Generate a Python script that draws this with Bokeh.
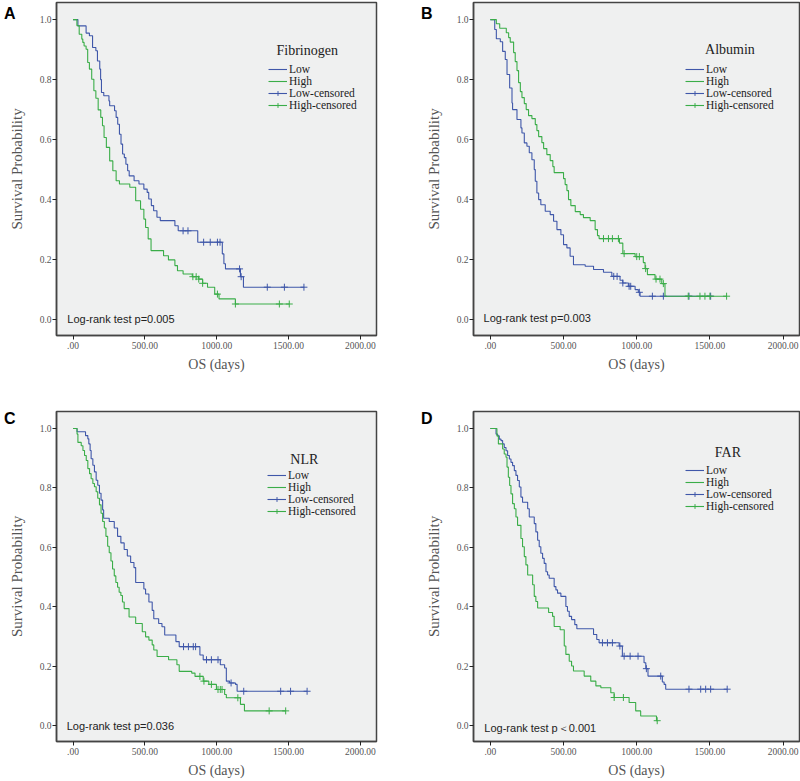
from bokeh.plotting import figure
from bokeh.models import Range1d, Label, Legend, LegendItem, FixedTicker, LinearAxis
from bokeh.layouts import gridplot
from bokeh.embed import file_html
from bokeh.resources import INLINE

# ---------------- axis ticks ----------------
X_TICKS = [0, 500, 1000, 1500, 2000]
X_TICK_LABELS = [".00", "500.00", "1000.00", "1500.00", "2000.00"]
Y_TICKS = [0.0, 0.2, 0.4, 0.6, 0.8, 1.0]
Y_TICK_LABELS = ["0.0", "0.2", "0.4", "0.6", "0.8", "1.0"]
GROUPS = ["Low", "High", "Low-censored", "High-censored"]

# ---------------- Panel A : Fibrinogen ----------------
A_low_t = [0, 34, 91, 114, 136, 159, 170, 186, 192, 198, 214, 250, 255, 289, 300, 311, 323, 334, 345, 357, 368, 380, 391, 425, 459, 493, 516, 527, 545, 561, 584, 607, 709, 732, 868, 1039, 1050, 1061, 1165, 1186, 1609]
A_low_s = [1.0, 0.979, 0.955, 0.946, 0.907, 0.896, 0.862, 0.835, 0.80, 0.757, 0.746, 0.729, 0.713, 0.696, 0.674, 0.651, 0.618, 0.585, 0.552, 0.540, 0.518, 0.496, 0.479, 0.463, 0.452, 0.435, 0.424, 0.402, 0.380, 0.363, 0.341, 0.330, 0.313, 0.296, 0.258, 0.219, 0.186, 0.169, 0.143, 0.108, 0.108]
A_low_ct = [766, 800, 909, 955, 1005, 1023, 1159, 1170, 1352, 1471, 1607]
A_low_cs = [0.296, 0.296, 0.258, 0.258, 0.258, 0.258, 0.169, 0.143, 0.108, 0.108, 0.108]
A_high_t = [0, 27, 43, 61, 68, 77, 91, 102, 114, 130, 145, 159, 175, 193, 205, 216, 232, 255, 277, 300, 323, 395, 436, 470, 493, 505, 523, 543, 630, 664, 709, 727, 766, 830, 875, 902, 936, 986, 1016, 1130, 1505]
A_high_s = [1.0, 0.98, 0.951, 0.935, 0.924, 0.912, 0.901, 0.857, 0.835, 0.801, 0.763, 0.738, 0.699, 0.674, 0.646, 0.607, 0.574, 0.529, 0.496, 0.463, 0.452, 0.441, 0.396, 0.368, 0.335, 0.307, 0.269, 0.230, 0.213, 0.199, 0.180, 0.163, 0.152, 0.143, 0.135, 0.121, 0.108, 0.085, 0.069, 0.052, 0.052]
A_high_ct = [834, 857, 875, 902, 1005, 1130, 1436, 1505]
A_high_cs = [0.143, 0.143, 0.135, 0.121, 0.085, 0.052, 0.052, 0.052]

# ---------------- Panel B : Albumin ----------------
B_low_t = [0, 30, 41, 68, 84, 102, 114, 132, 148, 152, 182, 209, 216, 232, 250, 266, 284, 300, 307, 318, 330, 345, 375, 409, 432, 455, 482, 500, 523, 545, 568, 648, 705, 773, 830, 886, 905, 943, 989, 1011, 1023, 1511]
B_low_s = [1.0, 0.967, 0.936, 0.926, 0.894, 0.867, 0.817, 0.772, 0.722, 0.70, 0.667, 0.639, 0.622, 0.589, 0.578, 0.556, 0.533, 0.50, 0.461, 0.422, 0.40, 0.383, 0.361, 0.35, 0.328, 0.30, 0.283, 0.25, 0.239, 0.211, 0.183, 0.178, 0.167, 0.158, 0.144, 0.131, 0.122, 0.111, 0.10, 0.091, 0.078, 0.078]
B_low_ct = [843, 866, 905, 948, 959, 1018, 1107, 1182, 1357, 1505]
B_low_cs = [0.144, 0.144, 0.122, 0.111, 0.111, 0.091, 0.078, 0.078, 0.078, 0.078]
B_high_t = [0, 41, 64, 109, 125, 136, 159, 170, 182, 193, 205, 216, 232, 245, 261, 284, 307, 318, 330, 352, 364, 386, 409, 427, 436, 500, 511, 523, 534, 550, 580, 614, 636, 682, 716, 732, 743, 882, 905, 989, 1045, 1057, 1073, 1125, 1171, 1193, 1614]
B_high_s = [1.0, 0.986, 0.971, 0.956, 0.94, 0.925, 0.89, 0.86, 0.83, 0.79, 0.76, 0.74, 0.72, 0.70, 0.68, 0.67, 0.65, 0.63, 0.61, 0.59, 0.57, 0.55, 0.53, 0.51, 0.49, 0.47, 0.45, 0.43, 0.40, 0.38, 0.36, 0.35, 0.34, 0.33, 0.30, 0.28, 0.27, 0.255, 0.22, 0.21, 0.19, 0.17, 0.15, 0.135, 0.12, 0.078, 0.078]
B_high_ct = [773, 807, 834, 875, 914, 1000, 1018, 1061, 1132, 1159, 1182, 1352, 1432, 1466, 1500, 1614]
B_high_cs = [0.27, 0.27, 0.27, 0.27, 0.22, 0.21, 0.21, 0.17, 0.135, 0.135, 0.12, 0.078, 0.078, 0.078, 0.078, 0.078]

# ---------------- Panel C : NLR ----------------
C_low_t = [0, 28, 87, 103, 110, 119, 126, 138, 149, 161, 172, 184, 195, 206, 213, 252, 287, 310, 333, 356, 378, 401, 424, 436, 493, 505, 528, 551, 562, 596, 619, 638, 716, 739, 883, 906, 1025, 1055, 1067, 1090, 1131, 1142, 1629]
C_low_s = [1.0, 0.989, 0.976, 0.965, 0.948, 0.926, 0.898, 0.876, 0.854, 0.826, 0.809, 0.782, 0.759, 0.726, 0.698, 0.687, 0.665, 0.637, 0.615, 0.593, 0.571, 0.549, 0.532, 0.482, 0.46, 0.443, 0.416, 0.388, 0.36, 0.344, 0.333, 0.305, 0.283, 0.266, 0.238, 0.222, 0.205, 0.194, 0.150, 0.144, 0.139, 0.116, 0.116]
C_low_ct = [769, 803, 837, 853, 929, 963, 1009, 1100, 1188, 1445, 1514, 1629]
C_low_cs = [0.266, 0.266, 0.266, 0.266, 0.222, 0.222, 0.222, 0.144, 0.116, 0.116, 0.116, 0.116]
C_high_t = [0, 28, 34, 57, 69, 80, 92, 103, 115, 126, 138, 149, 161, 172, 184, 195, 206, 218, 229, 241, 252, 264, 275, 287, 298, 310, 321, 333, 344, 356, 390, 436, 482, 505, 528, 551, 562, 585, 665, 723, 739, 826, 849, 906, 945, 998, 1055, 1067, 1165, 1193, 1480]
C_high_s = [1.0, 0.981, 0.953, 0.942, 0.926, 0.909, 0.892, 0.865, 0.848, 0.831, 0.815, 0.804, 0.787, 0.765, 0.743, 0.715, 0.687, 0.665, 0.637, 0.604, 0.582, 0.554, 0.527, 0.504, 0.482, 0.466, 0.449, 0.438, 0.416, 0.394, 0.366, 0.344, 0.316, 0.299, 0.288, 0.272, 0.255, 0.233, 0.222, 0.205, 0.183, 0.177, 0.166, 0.150, 0.139, 0.122, 0.105, 0.094, 0.072, 0.050, 0.050]
C_high_ct = [883, 911, 963, 1009, 1025, 1037, 1147, 1365, 1480]
C_high_cs = [0.166, 0.150, 0.139, 0.122, 0.122, 0.122, 0.094, 0.050, 0.050]

# ---------------- Panel D : FAR ----------------
D_low_t = [0, 39, 50, 61, 73, 84, 95, 107, 118, 130, 141, 152, 164, 175, 186, 198, 209, 220, 255, 266, 300, 311, 323, 334, 345, 357, 368, 380, 391, 402, 436, 448, 459, 482, 516, 527, 539, 555, 577, 591, 705, 727, 743, 880, 902, 1050, 1062, 1077, 1175, 1187, 1198, 1618]
D_low_s = [1.0, 0.981, 0.975, 0.964, 0.959, 0.948, 0.936, 0.925, 0.909, 0.897, 0.886, 0.875, 0.858, 0.842, 0.825, 0.803, 0.769, 0.752, 0.730, 0.702, 0.680, 0.652, 0.624, 0.602, 0.580, 0.563, 0.546, 0.518, 0.507, 0.496, 0.468, 0.457, 0.446, 0.435, 0.401, 0.385, 0.368, 0.357, 0.340, 0.326, 0.307, 0.290, 0.279, 0.268, 0.234, 0.212, 0.192, 0.167, 0.147, 0.139, 0.123, 0.123]
D_low_ct = [766, 800, 834, 885, 914, 955, 1009, 1066, 1164, 1357, 1437, 1471, 1505, 1618]
D_low_cs = [0.279, 0.279, 0.279, 0.268, 0.234, 0.234, 0.234, 0.192, 0.167, 0.123, 0.123, 0.123, 0.123, 0.123]
D_high_t = [0, 45, 55, 84, 95, 107, 114, 123, 132, 141, 152, 164, 175, 186, 209, 220, 232, 243, 255, 289, 300, 311, 323, 398, 425, 436, 477, 505, 516, 539, 555, 568, 641, 686, 721, 755, 823, 846, 948, 993, 1027, 1135, 1140]
D_high_s = [1.0, 0.975, 0.948, 0.931, 0.914, 0.903, 0.870, 0.836, 0.808, 0.780, 0.747, 0.730, 0.702, 0.674, 0.630, 0.602, 0.569, 0.541, 0.507, 0.474, 0.435, 0.418, 0.396, 0.381, 0.368, 0.334, 0.323, 0.268, 0.240, 0.217, 0.201, 0.184, 0.167, 0.150, 0.134, 0.128, 0.111, 0.095, 0.078, 0.050, 0.033, 0.017, 0.017]
D_high_ct = [846, 909, 1140]
D_high_cs = [0.095, 0.095, 0.017]

LOW_COLOR = "#3f57a9"
HIGH_COLOR = "#3aad48"
SERIF = "Liberation Serif"
AX_COLOR = "#444444"


def make_panel(letter, letter_y, title, ptext, low, high, borders, legend_loc,
               title_xy, ptext_xy):
    bl, br, bt, bb, h = borders
    p = figure(width=400, height=h, output_backend="svg", toolbar_location=None,
               x_range=Range1d(-115, 2112), y_range=Range1d(-0.053, 1.057),
               min_border_left=bl, min_border_right=br, min_border_top=bt,
               min_border_bottom=bb, x_axis_label="OS (days)",
               y_axis_label="Survival Probability")
    p.background_fill_color = "#eff0f0"
    p.border_fill_color = "white"
    p.outline_line_color = AX_COLOR
    p.outline_line_width = 1.5
    p.xgrid.visible = False
    p.ygrid.visible = False

    for ax, ticks, labels in ((p.xaxis[0], X_TICKS, X_TICK_LABELS),
                              (p.yaxis[0], Y_TICKS, Y_TICK_LABELS)):
        ax.ticker = FixedTicker(ticks=ticks)
        ax.major_label_overrides = {t: l for t, l in zip(ticks, labels)}
        ax.major_label_text_font = SERIF
        ax.major_label_text_font_size = "9.5px"
        ax.major_label_text_color = "#555555"
        ax.major_tick_line_color = "#222222"
        ax.major_tick_out = 4
        ax.major_tick_in = 0
        ax.minor_tick_line_color = None
        ax.axis_line_color = AX_COLOR
        ax.axis_line_width = 1.5
        ax.axis_label_text_font = SERIF
        ax.axis_label_text_font_style = "normal"
        ax.axis_label_text_color = "#555555"
    p.xaxis[0].major_label_standoff = 2
    p.yaxis[0].major_label_standoff = 1
    p.xaxis[0].axis_label_text_font_size = "14px"
    p.yaxis[0].axis_label_text_font_size = "15px"
    p.xaxis[0].axis_label_standoff = 5
    p.yaxis[0].axis_label_standoff = 12

    # panel letter: an extra, bare axis on the left carrying one tick label
    lax = LinearAxis(ticker=FixedTicker(ticks=[letter_y]),
                     major_label_overrides={letter_y: letter})
    lax.axis_line_color = None
    lax.major_tick_line_color = None
    lax.minor_tick_line_color = None
    lax.major_tick_out = 0
    lax.major_tick_in = 0
    lax.major_label_standoff = -10
    lax.major_label_text_font = "Liberation Sans"
    lax.major_label_text_font_style = "bold"
    lax.major_label_text_font_size = "16px"
    lax.major_label_text_color = "black"
    p.add_layout(lax, "left")

    lt, ls, lct, lcs = low
    ht, hs, hct, hcs = high
    r_low = p.step(lt, ls, mode="after", line_color=LOW_COLOR, line_width=1.1)
    r_lowc = p.scatter(lct, lcs, marker="cross", size=7, line_color=LOW_COLOR, line_width=1)
    r_high = p.step(ht, hs, mode="after", line_color=HIGH_COLOR, line_width=1.1)
    r_highc = p.scatter(hct, hcs, marker="cross", size=7, line_color=HIGH_COLOR, line_width=1)

    legend = Legend(items=[
        LegendItem(label=GROUPS[0], renderers=[r_low]),
        LegendItem(label=GROUPS[1], renderers=[r_high]),
        LegendItem(label=GROUPS[2], renderers=[r_low, r_lowc]),
        LegendItem(label=GROUPS[3], renderers=[r_high, r_highc]),
    ], location=legend_loc)
    legend.border_line_color = None
    legend.background_fill_alpha = 0
    legend.label_text_font = SERIF
    legend.label_text_font_size = "11.5px"
    legend.label_text_color = "#222222"
    legend.glyph_width = 19
    legend.glyph_height = 12
    legend.label_height = 12
    legend.label_standoff = 2
    legend.spacing = 0
    legend.padding = 0
    legend.margin = 0
    p.add_layout(legend)

    p.add_layout(Label(x=title_xy[0], y=title_xy[1], text=title, text_font=SERIF,
                       text_font_size="14px", text_color="#222222",
                       text_align="center", text_baseline="middle"))
    p.add_layout(Label(x=ptext_xy[0], y=ptext_xy[1], text=ptext,
                       text_font="Liberation Sans",
                       text_font_size="11px", text_color="#222222",
                       text_align="left", text_baseline="middle"))
    return p


pA = make_panel("A", 1.022, "Fibrinogen", "Log-rank test p=0.005",
                (A_low_t, A_low_s, A_low_ct, A_low_cs),
                (A_high_t, A_high_s, A_high_ct, A_high_cs),
                (49, 24, 2, 55, 390), (212, 224), (1630, 0.896), (-40, 0.002))
pB = make_panel("B", 1.022, "Albumin", "Log-rank test p=0.003",
                (B_low_t, B_low_s, B_low_ct, B_low_cs),
                (B_high_t, B_high_s, B_high_ct, B_high_cs),
                (73, 1, 2, 55, 390), (212, 224), (1637, 0.90), (-46, 0.006))
pC = make_panel("C", 1.034, "NLR", "Log-rank test p=0.036",
                (C_low_t, C_low_s, C_low_ct, C_low_cs),
                (C_high_t, C_high_s, C_high_ct, C_high_cs),
                (49, 24, 21, 36, 390), (211, 224), (1610, 0.896), (-44, 0.0))
pD = make_panel("D", 1.034, "FAR", "Log-rank test p\uff1c0.001",
                (D_low_t, D_low_s, D_low_ct, D_low_cs),
                (D_high_t, D_high_s, D_high_ct, D_high_cs),
                (73, 1, 21, 38, 390), (212, 229), (1623, 0.918), (-41, -0.006))

grid = gridplot([[pA, pB], [pC, pD]], toolbar_location=None)
open("out.html", "w").write(file_html(grid, INLINE))
